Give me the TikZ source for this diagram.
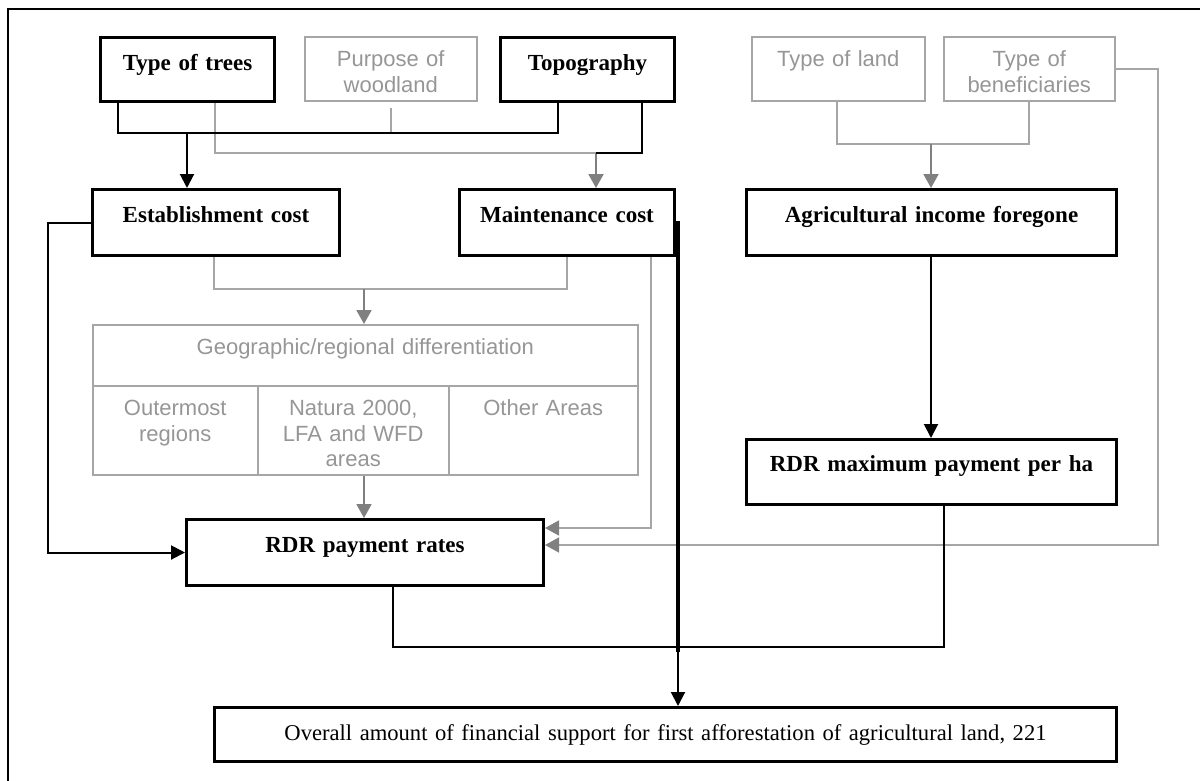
\documentclass[tikz,border=0pt]{standalone}
\usepackage{fontspec}
\setmainfont{Liberation Serif}
\newfontfamily\sansf{Liberation Sans}
\usetikzlibrary{arrows.meta}
\definecolor{lgray}{RGB}{166,166,166}
\definecolor{dgray}{RGB}{128,128,128}
\definecolor{tgray}{RGB}{150,150,150}
\begin{document}
\begin{tikzpicture}[x=1pt,y=-1pt,
  bbox/.style={draw=black, line width=3pt, inner sep=0pt, anchor=north west, align=center,
    font=\bfseries\fontsize{23pt}{26pt}\selectfont, text height=33pt},
  gbox/.style={draw=lgray, line width=1.5pt, inner sep=0pt, anchor=north west, align=center,
    text=tgray, font=\sansf\fontsize{22pt}{25.5pt}\selectfont, text height=30pt},
  blk/.style={draw=black, line width=2pt},
  blkarrow/.style={blk, -{Triangle[length=14pt,width=14pt]}},
  gline/.style={draw=lgray, line width=1.5pt},
  garrow/.style={draw=dgray, line width=2pt, -{Triangle[length=14pt,width=15pt]}},
  glarrow/.style={gline, -{Triangle[length=14pt,width=15pt,color=dgray]}},
]
\useasboundingbox (0,0) rectangle (1200,780);
\clip (0,0) rectangle (1200,780);
% outer frame
\draw[line width=2.5pt] (8,800) -- (8,9) -- (1220,9);

% nodes
\node[bbox, text width=174pt, text depth=31pt] (tt) at (99,36) {Type of trees};
\node[gbox, text width=172pt, text depth=34pt] (pw) at (304,36) {Purpose of\\woodland};
\node[bbox, text width=174pt, text depth=31pt] (tp) at (499,36) {Topography};
\node[gbox, text width=173pt, text depth=34pt] (tl) at (751,36) {Type of land};
\node[gbox, text width=171pt, text depth=34pt] (tb) at (943,36) {Type of\\beneficiaries};
\node[bbox, text width=247pt, text depth=33pt] (ec) at (91,188) {Establishment cost};
\node[bbox, text width=215pt, text depth=33pt] (mc) at (458,188) {Maintenance cost};
\node[bbox, text width=370pt, text depth=33pt] (ai) at (745,188) {Agricultural income foregone};
\node[gbox, text width=545pt, text depth=31pt] (geo) at (92,324) {Geographic/regional differentiation};
\node[gbox, text width=165pt, text depth=59pt] (c1) at (92,385) {Outermost\\regions};
\node[gbox, text width=191pt, text depth=59pt] (c2) at (257,385) {Natura 2000,\\LFA and WFD\\areas};
\node[gbox, text width=189pt, text depth=59pt] (c3) at (448,385) {Other Areas};
\node[bbox, text width=370pt, text height=32pt, text depth=33pt] (rm) at (745,438) {RDR maximum payment per ha};
\node[bbox, text width=357pt, text depth=33pt] (rr) at (185,518) {RDR payment rates};
\node[bbox, font=\fontsize{22.6pt}{26pt}\selectfont, text width=902pt, text depth=21pt] (ov) at (213,706)
  {Overall amount of financial support for first afforestation of agricultural land, 221};

% gray connectors
\coordinate (j2) at (596,153);
\draw[gline] (tt.south -| 215,0) |- (j2);
\draw[garrow] (j2) -- (mc.north -| j2);
\draw[gline] ([yshift=-6pt]pw.south) -- (pw.south |- 0,133);
\coordinate (j3) at (364,289);
\draw[gline] (ec.south -| 214,0) |- (j3) -| (mc.south -| 567,0);
\draw[garrow] (j3) -- (geo.north -| j3);
\draw[garrow] (c2.south -| j3) -- (rr.north -| j3);
\coordinate (g2) at (651,528);
\draw[glarrow] (mc.south -| g2) -- (g2) -- (rr.east |- g2);
\coordinate (g1) at (1158,545);
\draw[glarrow] (tb.east) -| (g1) -- (rr.east |- g1);
\coordinate (j4) at (931,144);
\draw[gline] (tl.south -| 837,0) |- (j4) -| (tb.south -| 1029,0);
\draw[garrow] (j4) -- (ai.north -| j4);

% black connectors
\coordinate (j1) at (187,133);
\draw[blk] (tt.south -| 118,0) |- (j1) -| (tp.south -| 558,0);
\draw[blkarrow] (j1) -- (ec.north -| j1);
\draw[blk] (tp.south -| 642,0) |- (j2);
\draw[blkarrow] (ai.south -| j4) -- (rm.north -| j4);
\coordinate (m1) at (48,0);
\draw[blkarrow] (ec.west) -| (m1 |- rr.west) -- (rr.west);
\coordinate (b1) at (393,647);
\draw[blk] (rr.south -| b1) -- (b1) -| (rm.south -| 944,0);
\coordinate (j5) at (678,652);
\draw[draw=black, line width=4pt] (mc.east) -| (j5);
\draw[blkarrow] (j5) -- (ov.north -| j5);
\end{tikzpicture}
\end{document}
